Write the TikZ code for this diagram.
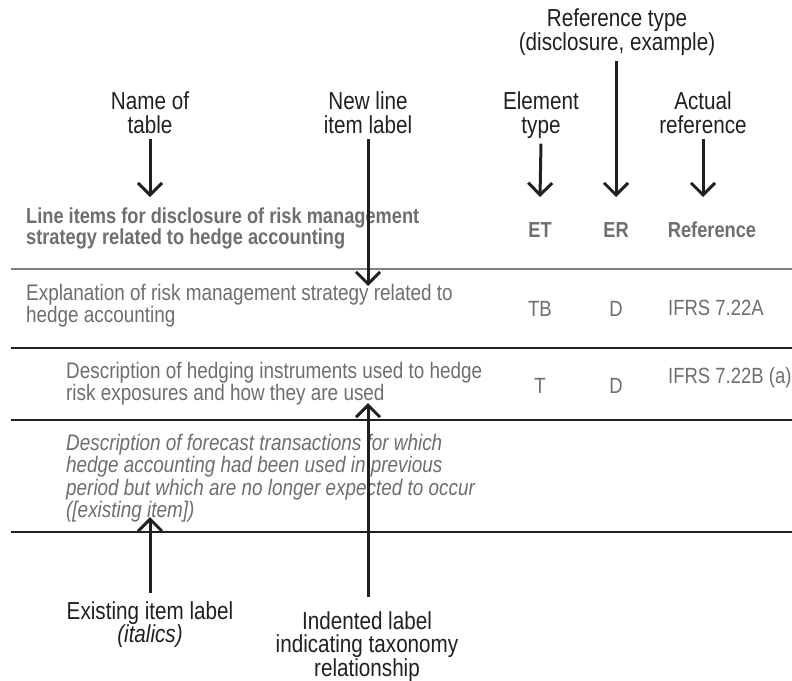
\documentclass[tikz,border=0pt]{standalone}
\usepackage{fontspec}
\setmainfont{Liberation Sans}[FakeStretch=0.84]
\usetikzlibrary{arrows.meta}
\definecolor{ink}{HTML}{231F20}
\definecolor{cellgray}{HTML}{6D6E71}
\definecolor{rulegray}{HTML}{808080}

\begin{document}
\begin{tikzpicture}[x=1pt,y=-1pt,
  callout/.style={inner sep=0pt,align=center,anchor=north,text=ink,
    font=\fontsize{24.6}{24}\selectfont},
  cell/.style={inner sep=0pt,align=left,anchor=north west,text=cellgray,
    font=\fontsize{22.5}{22}\selectfont},
  code/.style={inner sep=0pt,anchor=base,text=cellgray,
    font=\fontsize{22}{22}\selectfont},
  head/.style={inner sep=0pt,text=cellgray,
    font=\bfseries\fontsize{21.7}{20}\selectfont},
  pointer/.style={draw=ink,line width=3pt,-{Straight Barb[length=12pt,width=24pt]}},
  rule/.style={draw=ink,line width=1.2pt}]
  \useasboundingbox (0,0) rectangle (792,680);

  % callouts above the table
  \node[callout] (tabname) at (150,91.4) {Name of\\table};
  \node[callout] (newitem) at (368,91.4) {New line\\item label};
  \node[callout] (elemtype) at (541,91.4) {Element\\type};
  \node[callout] (reftype) at (617,8.4) {Reference type\\(disclosure, example)};
  \node[callout] (actualref) at (703,91.4) {Actual\\reference};

  % table header
  \node[head,align=left,anchor=north west] (hdr) at (26,207.4)
    {Line items for disclosure of risk management\\strategy related to hedge accounting};
  \node[head,anchor=base] (hET) at (540,237) {ET};
  \node[head,anchor=base] (hER) at (616,237) {ER};
  \node[head,anchor=base] (hRef) at (712,237) {Reference};

  % rules
  \draw[rulegray,line width=1.5pt] (11,269) -- (792,269);
  \draw[rule] (11,348) -- (792,348);
  \draw[rule] (11,420) -- (792,420);
  \draw[rule] (11,532) -- (792,532);

  % rows
  \node[cell] (expl) at (26,283.9)
    {Explanation of risk management strategy related to\\hedge accounting};
  \node[code] (tb) at (540,316) {TB};
  \node[code] (d1) at (616,316) {D};
  \node[code,anchor=base west] (ifrsa) at (668,315) {IFRS 7.22A};

  \node[cell] (descr) at (66,361.9)
    {Description of hedging instruments used to hedge\\risk exposures and how they are used};
  \node[code] (t) at (540,393) {T};
  \node[code] (d2) at (616,393) {D};
  \node[code,anchor=base west] (ifrsb) at (668,383) {IFRS 7.22B (a)};

  \node[cell,font=\itshape\fontsize{22.5}{22.3}\selectfont] (forecast) at (66,433.9)
    {Description of forecast transactions for which\\hedge accounting had been used in previous\\period but which are no longer expected to occur\\([existing item])};

  % callouts below the table
  \node[callout,font=\fontsize{24.6}{23}\selectfont] (existing) at (150,601)
    {Existing item label\\\textit{(italics)}};
  \node[callout,font=\fontsize{24.6}{23.5}\selectfont] (indented) at (367,611)
    {Indented label\\indicating taxonomy\\relationship};

  \coordinate (tabname tip) at (150,197);
  \coordinate (newitem tip) at (368,286);
  \coordinate (elemtype tip) at (540,197);
  \coordinate (reftype tip) at (616,197);
  \coordinate (actualref tip) at (703,197);
  \coordinate (existing tip) at (150,517);
  \coordinate (indented tip) at (368,403);

  \draw[pointer] ([yshift=-5pt]tabname.south) -- (tabname tip);
  \draw[pointer] ([yshift=-5pt]newitem.south) -- (newitem tip);
  \draw[pointer] ([yshift=-5pt]elemtype.south) -- (elemtype tip);
  \draw[pointer] ([xshift=-1pt,yshift=-5pt]reftype.south) -- (reftype tip);
  \draw[pointer] ([yshift=-5pt]actualref.south) -- (actualref tip);
  \draw[pointer] ([yshift=8pt]existing.north) -- (existing tip);
  \draw[pointer] ([xshift=1pt,yshift=14pt]indented.north) -- (indented tip);
\end{tikzpicture}
\end{document}
